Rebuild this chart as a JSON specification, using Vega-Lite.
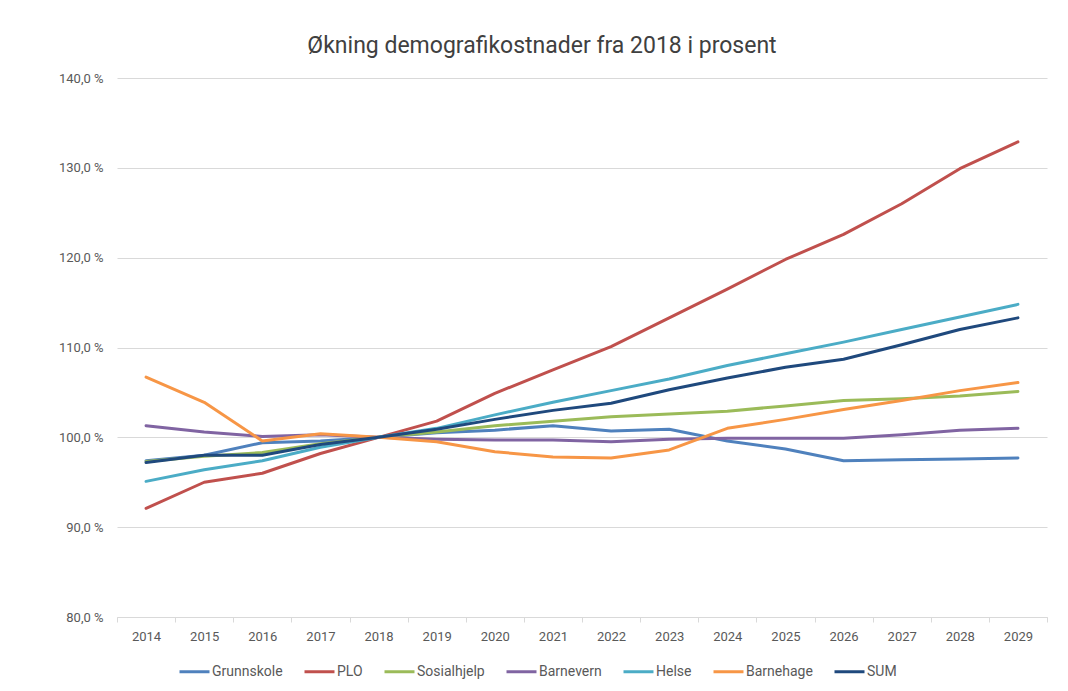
{
  "$schema": "https://vega.github.io/schema/vega-lite/v6.json",
  "width": 930,
  "height": 539,
  "autosize": {"type": "none"},
  "padding": {"left": 117, "top": 78, "right": 21, "bottom": 74},
  "background": "white",
  "config": {
    "view": {"stroke": null},
    "font": "'Liberation Sans Narrow', Roboto, sans-serif"
  },
  "title": {
    "text": "Økning demografikostnader fra 2018 i prosent",
    "fontSize": 23,
    "fontWeight": "normal",
    "color": "#404040",
    "anchor": "middle",
    "dx": -40,
    "offset": 14,
    "font": "'Liberation Sans Narrow', Roboto, sans-serif"
  },
  "data": {
    "values": [
      {"år": "2014", "serie": "Grunnskole", "verdi": 97.4},
      {"år": "2015", "serie": "Grunnskole", "verdi": 98.0},
      {"år": "2016", "serie": "Grunnskole", "verdi": 99.4},
      {"år": "2017", "serie": "Grunnskole", "verdi": 99.6},
      {"år": "2018", "serie": "Grunnskole", "verdi": 100.0},
      {"år": "2019", "serie": "Grunnskole", "verdi": 100.5},
      {"år": "2020", "serie": "Grunnskole", "verdi": 100.8},
      {"år": "2021", "serie": "Grunnskole", "verdi": 101.3},
      {"år": "2022", "serie": "Grunnskole", "verdi": 100.7},
      {"år": "2023", "serie": "Grunnskole", "verdi": 100.9},
      {"år": "2024", "serie": "Grunnskole", "verdi": 99.6},
      {"år": "2025", "serie": "Grunnskole", "verdi": 98.7},
      {"år": "2026", "serie": "Grunnskole", "verdi": 97.4},
      {"år": "2027", "serie": "Grunnskole", "verdi": 97.5},
      {"år": "2028", "serie": "Grunnskole", "verdi": 97.6},
      {"år": "2029", "serie": "Grunnskole", "verdi": 97.7},

      {"år": "2014", "serie": "PLO", "verdi": 92.1},
      {"år": "2015", "serie": "PLO", "verdi": 95.0},
      {"år": "2016", "serie": "PLO", "verdi": 96.0},
      {"år": "2017", "serie": "PLO", "verdi": 98.2},
      {"år": "2018", "serie": "PLO", "verdi": 100.0},
      {"år": "2019", "serie": "PLO", "verdi": 101.8},
      {"år": "2020", "serie": "PLO", "verdi": 104.9},
      {"år": "2021", "serie": "PLO", "verdi": 107.5},
      {"år": "2022", "serie": "PLO", "verdi": 110.1},
      {"år": "2023", "serie": "PLO", "verdi": 113.3},
      {"år": "2024", "serie": "PLO", "verdi": 116.5},
      {"år": "2025", "serie": "PLO", "verdi": 119.8},
      {"år": "2026", "serie": "PLO", "verdi": 122.6},
      {"år": "2027", "serie": "PLO", "verdi": 126.0},
      {"år": "2028", "serie": "PLO", "verdi": 129.9},
      {"år": "2029", "serie": "PLO", "verdi": 132.9},

      {"år": "2014", "serie": "Sosialhjelp", "verdi": 97.3},
      {"år": "2015", "serie": "Sosialhjelp", "verdi": 97.9},
      {"år": "2016", "serie": "Sosialhjelp", "verdi": 98.3},
      {"år": "2017", "serie": "Sosialhjelp", "verdi": 99.3},
      {"år": "2018", "serie": "Sosialhjelp", "verdi": 100.0},
      {"år": "2019", "serie": "Sosialhjelp", "verdi": 100.6},
      {"år": "2020", "serie": "Sosialhjelp", "verdi": 101.3},
      {"år": "2021", "serie": "Sosialhjelp", "verdi": 101.8},
      {"år": "2022", "serie": "Sosialhjelp", "verdi": 102.3},
      {"år": "2023", "serie": "Sosialhjelp", "verdi": 102.6},
      {"år": "2024", "serie": "Sosialhjelp", "verdi": 102.9},
      {"år": "2025", "serie": "Sosialhjelp", "verdi": 103.5},
      {"år": "2026", "serie": "Sosialhjelp", "verdi": 104.1},
      {"år": "2027", "serie": "Sosialhjelp", "verdi": 104.3},
      {"år": "2028", "serie": "Sosialhjelp", "verdi": 104.6},
      {"år": "2029", "serie": "Sosialhjelp", "verdi": 105.1},

      {"år": "2014", "serie": "Barnevern", "verdi": 101.3},
      {"år": "2015", "serie": "Barnevern", "verdi": 100.6},
      {"år": "2016", "serie": "Barnevern", "verdi": 100.1},
      {"år": "2017", "serie": "Barnevern", "verdi": 100.3},
      {"år": "2018", "serie": "Barnevern", "verdi": 100.0},
      {"år": "2019", "serie": "Barnevern", "verdi": 99.8},
      {"år": "2020", "serie": "Barnevern", "verdi": 99.7},
      {"år": "2021", "serie": "Barnevern", "verdi": 99.7},
      {"år": "2022", "serie": "Barnevern", "verdi": 99.5},
      {"år": "2023", "serie": "Barnevern", "verdi": 99.8},
      {"år": "2024", "serie": "Barnevern", "verdi": 99.9},
      {"år": "2025", "serie": "Barnevern", "verdi": 99.9},
      {"år": "2026", "serie": "Barnevern", "verdi": 99.9},
      {"år": "2027", "serie": "Barnevern", "verdi": 100.3},
      {"år": "2028", "serie": "Barnevern", "verdi": 100.8},
      {"år": "2029", "serie": "Barnevern", "verdi": 101.0},

      {"år": "2014", "serie": "Helse", "verdi": 95.1},
      {"år": "2015", "serie": "Helse", "verdi": 96.4},
      {"år": "2016", "serie": "Helse", "verdi": 97.4},
      {"år": "2017", "serie": "Helse", "verdi": 98.9},
      {"år": "2018", "serie": "Helse", "verdi": 100.0},
      {"år": "2019", "serie": "Helse", "verdi": 101.0},
      {"år": "2020", "serie": "Helse", "verdi": 102.5},
      {"år": "2021", "serie": "Helse", "verdi": 103.9},
      {"år": "2022", "serie": "Helse", "verdi": 105.2},
      {"år": "2023", "serie": "Helse", "verdi": 106.5},
      {"år": "2024", "serie": "Helse", "verdi": 108.0},
      {"år": "2025", "serie": "Helse", "verdi": 109.3},
      {"år": "2026", "serie": "Helse", "verdi": 110.6},
      {"år": "2027", "serie": "Helse", "verdi": 112.0},
      {"år": "2028", "serie": "Helse", "verdi": 113.4},
      {"år": "2029", "serie": "Helse", "verdi": 114.8},

      {"år": "2014", "serie": "Barnehage", "verdi": 106.7},
      {"år": "2015", "serie": "Barnehage", "verdi": 103.9},
      {"år": "2016", "serie": "Barnehage", "verdi": 99.6},
      {"år": "2017", "serie": "Barnehage", "verdi": 100.4},
      {"år": "2018", "serie": "Barnehage", "verdi": 100.0},
      {"år": "2019", "serie": "Barnehage", "verdi": 99.5},
      {"år": "2020", "serie": "Barnehage", "verdi": 98.4},
      {"år": "2021", "serie": "Barnehage", "verdi": 97.8},
      {"år": "2022", "serie": "Barnehage", "verdi": 97.7},
      {"år": "2023", "serie": "Barnehage", "verdi": 98.6},
      {"år": "2024", "serie": "Barnehage", "verdi": 101.0},
      {"år": "2025", "serie": "Barnehage", "verdi": 102.0},
      {"år": "2026", "serie": "Barnehage", "verdi": 103.1},
      {"år": "2027", "serie": "Barnehage", "verdi": 104.1},
      {"år": "2028", "serie": "Barnehage", "verdi": 105.2},
      {"år": "2029", "serie": "Barnehage", "verdi": 106.1},

      {"år": "2014", "serie": "SUM", "verdi": 97.2},
      {"år": "2015", "serie": "SUM", "verdi": 98.0},
      {"år": "2016", "serie": "SUM", "verdi": 98.0},
      {"år": "2017", "serie": "SUM", "verdi": 99.2},
      {"år": "2018", "serie": "SUM", "verdi": 100.0},
      {"år": "2019", "serie": "SUM", "verdi": 100.9},
      {"år": "2020", "serie": "SUM", "verdi": 102.0},
      {"år": "2021", "serie": "SUM", "verdi": 103.0},
      {"år": "2022", "serie": "SUM", "verdi": 103.8},
      {"år": "2023", "serie": "SUM", "verdi": 105.3},
      {"år": "2024", "serie": "SUM", "verdi": 106.6},
      {"år": "2025", "serie": "SUM", "verdi": 107.8},
      {"år": "2026", "serie": "SUM", "verdi": 108.7},
      {"år": "2027", "serie": "SUM", "verdi": 110.3},
      {"år": "2028", "serie": "SUM", "verdi": 112.0},
      {"år": "2029", "serie": "SUM", "verdi": 113.3}
    ]
  },
  "mark": {"type": "line", "strokeWidth": 3, "strokeCap": "round", "strokeJoin": "round"},
  "encoding": {
    "x": {
      "field": "år",
      "type": "ordinal",
      "bandPosition": 0.5,
      "scale": {"type": "band", "paddingInner": 0, "paddingOuter": 0},
      "axis": {
        "title": null,
        "labelAngle": 0,
        "labelFontSize": 13,
        "labelColor": "#595959",
        "labelPadding": 8,
        "domainColor": "#d9d9d9",
        "domainWidth": 1,
        "tickColor": "#d9d9d9",
        "tickSize": 5,
        "tickBand": "extent",
        "grid": false
      }
    },
    "y": {
      "field": "verdi",
      "type": "quantitative",
      "scale": {"domain": [80, 140], "nice": false, "zero": false},
      "axis": {
        "title": null,
        "values": [80, 90, 100, 110, 120, 130, 140],
        "labelExpr": "replace(format(datum.value, '.1f'), '.', ',') + ' %'",
        "labelFontSize": 13,
        "labelColor": "#595959",
        "labelPadding": 14,
        "domain": false,
        "ticks": false,
        "gridColor": "#d9d9d9",
        "gridWidth": 1
      }
    },
    "color": {
      "field": "serie",
      "type": "nominal",
      "scale": {
        "domain": ["Grunnskole", "PLO", "Sosialhjelp", "Barnevern", "Helse", "Barnehage", "SUM"],
        "range": ["#4F81BD", "#C0504D", "#9BBB59", "#8064A2", "#4BACC6", "#F79646", "#1F497D"]
      },
      "legend": {
        "title": null,
        "orient": "none",
        "direction": "horizontal",
        "legendX": 61,
        "legendY": 577,
        "symbolType": "stroke",
        "symbolStrokeWidth": 3,
        "symbolSize": 900,
        "labelFontSize": 14,
        "labelColor": "#595959",
        "columnPadding": 15,
        "labelOffset": 1
      }
    }
  }
}
